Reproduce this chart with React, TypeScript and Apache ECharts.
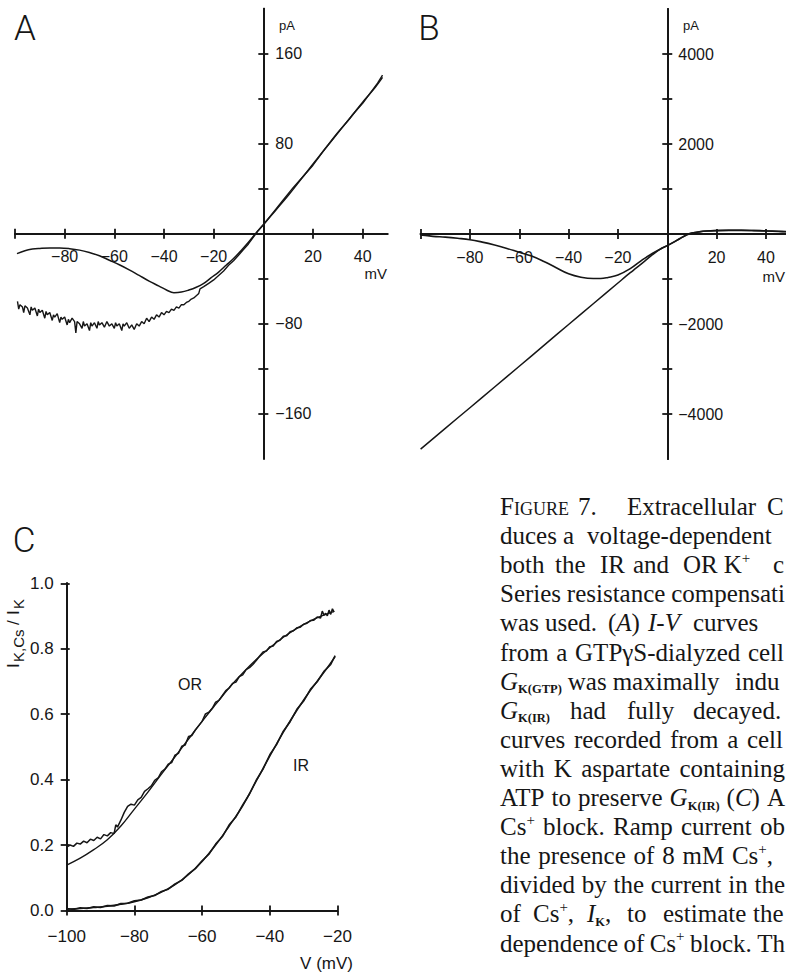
import React, { useEffect, useRef } from 'react';
import * as echarts from 'echarts';

// ---------------- DATA ----------------
// Panel A: I-V curves from a GTPgS-dialyzed cell (mV, pA)
const aSmoothCurve: number[][] = [
  [-99.2, -17.6], [-96, -15], [-93, -13.6], [-90, -13], [-86, -12.6], [-82, -12.6], [-78, -13.2],
  [-74, -14.5], [-70, -16.7], [-66, -19.5], [-62, -23.5], [-58, -27.5], [-54, -32], [-50, -37],
  [-46, -42], [-42, -46.5], [-39, -50], [-36, -52.3], [-33, -51.8], [-30, -50], [-27, -47.5],
  [-24, -44], [-21, -39], [-18, -34], [-15, -28], [-12, -22], [-9, -15], [-6, -7.5], [-3, 0.5],
  [0, 8], [5, 21], [10, 34], [15, 48], [20, 62], [25, 76], [30, 90], [35, 103], [40, 117],
  [45, 130], [48, 139],
];
const aNoisyCurve: number[][] = [
  [-99, -60], [-98.5, -67], [-98, -63], [-97, -65], [-96.5, -70], [-96, -64], [-95, -66],
  [-94, -72], [-93.5, -65], [-93, -68], [-92, -66], [-91, -73], [-90.5, -67], [-90, -70],
  [-89, -68], [-88, -75], [-87.5, -69], [-87, -72], [-86, -70], [-85, -77], [-84.5, -72],
  [-84, -74], [-83, -71], [-82, -79], [-81.5, -74], [-81, -76], [-80, -74], [-79, -81],
  [-78.5, -76], [-78, -79], [-77, -75], [-76, -78], [-75.5, -88], [-75, -78], [-74, -80],
  [-73, -84], [-72.5, -78], [-72, -82], [-71, -80], [-70, -86], [-69.5, -79], [-69, -82],
  [-68, -79], [-67, -84], [-66.5, -78], [-66, -81], [-65, -79], [-64, -83], [-63, -78],
  [-62, -82], [-61, -80], [-60, -84], [-59.5, -79], [-59, -82], [-58, -80], [-57, -86],
  [-56.5, -80], [-56, -82], [-55, -79], [-54, -84], [-53, -81], [-52, -85], [-51, -80],
  [-50, -82], [-49, -78], [-48, -80], [-47, -75], [-46, -78], [-45, -74], [-44, -76],
  [-43, -72], [-42, -74], [-41, -70], [-40, -72], [-39, -69], [-38, -70], [-37, -67],
  [-36, -68], [-35, -65], [-34, -66], [-33, -63], [-32, -63], [-31, -61], [-30, -60],
  [-29, -58], [-28, -57], [-27, -55], [-26, -53], [-25.5, -49], [-24, -47], [-22, -44],
  [-20, -41], [-18, -37], [-16, -33], [-14, -28], [-12, -24], [-10, -19], [-8, -14], [-6, -9],
  [-4, -3], [-2, 3], [0, 8], [4, 19], [8, 30], [12, 41], [16, 51], [20, 61], [24, 73], [28, 84],
  [32, 95], [36, 106], [40, 116], [44, 128], [46, 134], [48, 141],
];

// Panel B: I-V curves, K aspartate + ATP (mV, pA)
const bDipCurve: number[][] = [
  [-100, -20], [-95, -52], [-90, -70], [-85, -95], [-80, -126], [-75, -180], [-70, -245],
  [-65, -320], [-60, -407], [-55, -490], [-50, -610], [-45, -750], [-40, -885], [-35, -960],
  [-30, -990], [-27, -990], [-24, -965], [-20, -910], [-15, -770], [-10, -570], [-8, -500],
  [-5, -400], [-2, -310], [0, -259], [3, -170], [5, -105], [8, -15], [10, 20], [13, 48],
  [16, 65], [20, 75], [25, 80], [30, 80], [35, 75], [40, 65], [45, 55], [50, 45],
];
const bLinearCurve: number[][] = [
  [-100, -4780], [-90, -4320], [-80, -3860], [-70, -3400], [-60, -2940], [-50, -2475],
  [-40, -2010], [-30, -1550], [-20, -1090], [-15, -860], [-10, -640], [-6, -460], [-3, -340],
  [0, -259], [3, -170], [5, -105], [8, -15], [10, 20], [13, 50], [16, 68], [20, 78], [25, 84],
  [30, 85], [35, 80], [40, 70], [45, 60], [50, 50],
];

// Panel C: I_K,Cs / I_K vs V (mV)
const cORData: number[][] = [
  [-100, 0.194], [-99, 0.2], [-98, 0.196], [-97, 0.206], [-96, 0.203], [-95, 0.212], [-94, 0.207],
  [-93, 0.218], [-92, 0.214], [-91, 0.224], [-90, 0.219], [-89, 0.232], [-88, 0.228], [-87, 0.238],
  [-86, 0.235], [-85.5, 0.262], [-85, 0.255], [-84, 0.276], [-83, 0.3], [-82, 0.318], [-81, 0.325],
  [-80, 0.322], [-79, 0.338], [-78, 0.346], [-77, 0.364], [-76, 0.372], [-75, 0.381], [-74, 0.398],
  [-73, 0.405], [-72, 0.424], [-71, 0.432], [-70, 0.447], [-69, 0.452], [-68, 0.475], [-67, 0.48],
  [-66, 0.502], [-65, 0.506], [-64, 0.532], [-63, 0.535], [-62, 0.552], [-61, 0.565], [-60, 0.578],
  [-59, 0.601], [-58, 0.606], [-57, 0.618], [-56, 0.637], [-55, 0.642], [-54, 0.657], [-53, 0.672],
  [-52, 0.68], [-51, 0.694], [-50, 0.698], [-49, 0.715], [-48, 0.72], [-47, 0.736], [-46, 0.742],
  [-45, 0.752], [-44, 0.764], [-43, 0.778], [-42, 0.79], [-41, 0.793], [-40, 0.806], [-39, 0.808],
  [-38, 0.822], [-37, 0.826], [-36, 0.838], [-35, 0.84], [-34, 0.852], [-33, 0.855], [-32, 0.864],
  [-31, 0.866], [-30, 0.875], [-29, 0.878], [-28, 0.886], [-27, 0.887], [-26, 0.897], [-25, 0.894],
  [-24.5, 0.915], [-24, 0.903], [-23.5, 0.908], [-23, 0.901], [-22.5, 0.918], [-22, 0.905],
  [-21.5, 0.922], [-21, 0.912],
];
const cORFit: number[][] = [
  [-100, 0.139], [-96, 0.16], [-92, 0.186], [-88, 0.216], [-84, 0.258], [-80, 0.31], [-76, 0.362],
  [-72, 0.417], [-68, 0.47], [-64, 0.524], [-60, 0.578], [-56, 0.63], [-52, 0.681], [-48, 0.726],
  [-44, 0.767], [-40, 0.803], [-36, 0.835], [-32, 0.862], [-28, 0.885], [-24, 0.903], [-21, 0.914],
];
const cIRData: number[][] = [
  [-100, 0.006], [-98, 0.003], [-96, 0.008], [-94, 0.006], [-92, 0.011], [-90, 0.009], [-88, 0.015],
  [-86, 0.014], [-84, 0.021], [-82, 0.022], [-80, 0.03], [-78, 0.032], [-76, 0.041], [-74, 0.046],
  [-72, 0.058], [-70, 0.065], [-68, 0.081], [-66, 0.092], [-64, 0.112], [-62, 0.128], [-60, 0.152],
  [-58, 0.172], [-56, 0.203], [-54, 0.226], [-52, 0.262], [-50, 0.286], [-48, 0.323], [-46, 0.356],
  [-44, 0.398], [-42, 0.432], [-40, 0.476], [-38, 0.507], [-36, 0.548], [-34, 0.577], [-32, 0.615],
  [-30, 0.64], [-28, 0.676], [-26, 0.699], [-24, 0.731], [-22, 0.752], [-20.7, 0.779],
];
const cIRFit: number[][] = [
  [-100, 0.004], [-96, 0.006], [-92, 0.009], [-88, 0.013], [-84, 0.019], [-80, 0.027], [-76, 0.039],
  [-72, 0.056], [-68, 0.079], [-64, 0.11], [-60, 0.15], [-56, 0.2], [-52, 0.258], [-48, 0.32],
  [-44, 0.396], [-40, 0.472], [-36, 0.545], [-32, 0.612], [-28, 0.673], [-24, 0.728], [-20.7, 0.776],
];

// Ticks and labels
const abXTicks = [-100, -80, -60, -40, -20, 0, 20, 40];
const abXLabels = [-80, -60, -40, -20, 20, 40];
const aYTicks = [-160, -120, -80, -40, 40, 80, 120, 160];
const aYLabels = [-160, -80, 80, 160];
const bYTicks = [-4000, -3000, -2000, -1000, 1000, 2000, 3000, 4000];
const bYLabels = [-4000, -2000, 2000, 4000];
const cXTicks = [-100, -80, -60, -40, -20];
const cYTicks = [0, 0.2, 0.4, 0.6, 0.8, 1.0];

// Caption text (figure legend), one entry per printed line; each word is a list of [text, format]
type Seg = [string, string?];
const captionLines: Seg[][][] = [
  [[['F'], ['IGURE', 'sc']], [['7.']], [['Extracellular']], [['C']]],
  [[['duces']], [['a']], [['voltage-dependent']]],
  [[['both']], [['the']], [['IR']], [['and']], [['OR']], [['K'], ['+', 'sup']], [['c']]],
  [[['Series']], [['resistance']], [['compensati']]],
  [[['was']], [['used.']], [['('], ['A', 'i'], [')']], [['I-V', 'i']], [['curves']]],
  [[['from']], [['a']], [['GTPγS-dialyzed']], [['cell']]],
  [[['G', 'i'], ['K(GTP)', 'sub']], [['was']], [['maximally']], [['indu']]],
  [[['G', 'i'], ['K(IR)', 'sub']], [['had']], [['fully']], [['decayed.']]],
  [[['curves']], [['recorded']], [['from']], [['a']], [['cell']]],
  [[['with']], [['K']], [['aspartate']], [['containing']]],
  [[['ATP']], [['to']], [['preserve']], [['G', 'i'], ['K(IR)', 'sub']], [['('], ['C', 'i'], [')']], [['A']]],
  [[['Cs'], ['+', 'sup']], [['block.']], [['Ramp']], [['current']], [['ob']]],
  [[['the']], [['presence']], [['of']], [['8']], [['mM']], [['Cs'], ['+', 'sup'], [',']]],
  [[['divided']], [['by']], [['the']], [['current']], [['in']], [['the']]],
  [[['of']], [['Cs'], ['+', 'sup'], [',']], [['I', 'i'], ['K', 'sub'], [',']], [['to']], [['estimate']], [['the']]],
  [[['dependence']], [['of']], [['Cs'], ['+', 'sup']], [['block.']], [['Th']]],
];
// layout of caption: fixed word x-positions, or justified to a right edge
const captionWordX: (number[] | null)[] = [
  [500, 578, 627, 767], [500, 563, 587], [500, 555, 600, 633, 683, 722, 773], null,
  [500, 545, 608, 648, 693], null, [500, 565, 610, 735], [500, 570, 627, 693],
  null, null, null, null, null, null, [500, 533, 587, 627, 663, 753], null,
];
const captionRightEdge = [0, 0, 0, 785, 0, 784, 0, 0, 783, 785, 785, 785, 773, 785, 0, 785];

// ---------------- STYLE ----------------
const W = 786;
const H = 972;
const INK = '#161616';
const SANS = '"Liberation Sans", Arial, Helvetica, sans-serif';
const SERIF = '"Liberation Serif", "Times New Roman", serif';
const LETTER = 'Roboto, "Liberation Sans", sans-serif';
const FMT: Record<string, { size: number; weight: string; style: string; dy: number }> = {
  n: { size: 25, weight: 'normal', style: 'normal', dy: 0 },
  i: { size: 25, weight: 'normal', style: 'italic', dy: 0 },
  sc: { size: 18, weight: 'normal', style: 'normal', dy: 0 },
  sup: { size: 15, weight: 'normal', style: 'normal', dy: -10 },
  sub: { size: 12.5, weight: 'bold', style: 'normal', dy: 4 },
};
const CAP_LEFT = 500;
const CAP_BASE = 515;
const CAP_STEP = 29.1;

const minusFmt = (v: number) => (v < 0 ? '\u2212' + Math.abs(v) : String(v));

function txt(text: string, x: number, y: number, size: number, family: string, align = 'left', extra: any = {}) {
  return {
    type: 'text',
    x,
    y,
    silent: true,
    style: {
      text,
      fill: INK,
      font: `${extra.fontStyle || 'normal'} ${extra.fontWeight || 'normal'} ${size}px ${family}`,
      textAlign: align,
      textVerticalAlign: 'middle',
      align,
      verticalAlign: 'middle',
    },
  };
}

function buildCaption(): any[] {
  const ctx = document.createElement('canvas').getContext('2d') as CanvasRenderingContext2D;
  const fontOf = (k: string) => {
    const f = FMT[k];
    return `${f.style} ${f.weight} ${f.size}px ${SERIF}`;
  };
  const measure = (t: string, k: string) => {
    ctx.font = fontOf(k);
    return ctx.measureText(t).width;
  };
  const out: any[] = [];
  captionLines.forEach((words, li) => {
    const base = CAP_BASE + li * CAP_STEP;
    const widths = words.map((w) => w.reduce((s, [t, k]) => s + measure(t, k || 'n'), 0));
    const xs: number[] = [];
    const fixed = captionWordX[li];
    if (fixed) {
      let prevEnd = -1e9;
      words.forEach((_, i) => {
        const x = Math.max(fixed[i], prevEnd + 6);
        xs.push(x);
        prevEnd = x + widths[i];
      });
    } else {
      const total = widths.reduce((a, b) => a + b, 0);
      const gap = Math.max(4, (captionRightEdge[li] - CAP_LEFT - total) / Math.max(1, words.length - 1));
      let x = CAP_LEFT;
      words.forEach((_, i) => {
        xs.push(x);
        x += widths[i] + gap;
      });
    }
    words.forEach((w, wi) => {
      let x = xs[wi];
      w.forEach(([t, k0]) => {
        const k = k0 || 'n';
        const f = FMT[k];
        out.push({
          type: 'text',
          x,
          y: base + f.dy - 0.34 * f.size,
          silent: true,
          style: {
            text: t,
            fill: INK,
            font: fontOf(k),
            textAlign: 'left',
            textVerticalAlign: 'middle',
            align: 'left',
            verticalAlign: 'middle',
          },
        });
        x += measure(t, k);
      });
    });
  });
  return out;
}

// axis pair (outside ticks + inside ticks => crossing ticks); offset puts the axis through zero
function xPair(gridIndex: number, min: number, max: number, ticks: number[], labels: number[], o: any) {
  const base = {
    gridIndex,
    type: 'value',
    min,
    max,
    position: 'bottom',
    offset: o.offset,
    splitLine: { show: false },
    axisLine: { show: true, onZero: false, lineStyle: { color: INK, width: 2 } },
  };
  return [
    {
      ...base,
      axisTick: { show: true, inside: false, length: o.out, customValues: ticks, lineStyle: { color: INK, width: 1.8 } },
      axisLabel: {
        show: true,
        customValues: labels,
        margin: o.margin,
        formatter: o.fmt,
        color: INK,
        fontFamily: SANS,
        fontSize: o.fontSize,
      },
    },
    {
      ...base,
      axisTick: { show: true, inside: true, length: o.in, customValues: ticks, lineStyle: { color: INK, width: 1.8 } },
      axisLabel: { show: false },
    },
  ];
}

function yPair(gridIndex: number, min: number, max: number, ticks: number[], labels: number[], o: any) {
  const base = {
    gridIndex,
    type: 'value',
    min,
    max,
    position: 'left',
    offset: o.offset,
    splitLine: { show: false },
    axisLine: { show: true, onZero: false, lineStyle: { color: INK, width: 2 } },
  };
  return [
    {
      ...base,
      axisTick: { show: true, inside: false, length: o.out, customValues: ticks, lineStyle: { color: INK, width: 1.8 } },
      axisLabel: {
        show: true,
        inside: o.labelInside,
        customValues: labels,
        margin: o.margin,
        formatter: o.fmt,
        color: INK,
        fontFamily: SANS,
        fontSize: o.fontSize,
      },
    },
    {
      ...base,
      axisTick: { show: true, inside: true, length: o.in, customValues: ticks, lineStyle: { color: INK, width: 1.8 } },
      axisLabel: { show: false },
    },
  ];
}

function line(data: number[][], xi: number, width: number, smooth: boolean | number = false) {
  return {
    type: 'line',
    xAxisIndex: xi,
    yAxisIndex: xi,
    data,
    symbol: 'none',
    showSymbol: false,
    smooth,
    silent: true,
    lineStyle: { color: INK, width },
    z: 3,
  };
}

// grid geometry (pixels)
const GA = { left: 15, top: 8.8, width: 372.5, height: 450 };
const GB = { left: 420.6, top: 9, width: 370, height: 450 };
const GC = { left: 66.7, top: 583.3, width: 270.8, height: 327.2 };

export default function App() {
  const ref = useRef<HTMLDivElement>(null);
  useEffect(() => {
    document.body.style.margin = '0';
    document.body.style.background = '#ffffff';
    if (!ref.current) return;
    const chart = echarts.init(ref.current, null, { renderer: 'svg', width: W, height: H });

    // zero positions inside the A and B grids
    const aX0 = -(GA.height * 0.5); // y=0 at mid-height (range -200..200)
    const aY0 = -(GA.width * (100 / 150)); // x=0 (range -100..50)
    const bX0 = -(GB.height * 0.5);
    const bY0 = -(GB.width * (100 / 150));

    const yTitle = {
      type: 'group',
      x: 19,
      y: 668,
      rotation: Math.PI / 2,
      silent: true,
      children: [
        txt('I', 0, -6, 17, SANS),
        txt('K,Cs', 6, -1, 15, SANS),
        txt('/', 43, -6, 17, SANS),
        txt('I', 53, -6, 17, SANS),
        txt('K', 59, -1, 15, SANS),
      ],
    };

    const graphics: any[] = [
      txt('A', 25, 28, 35, LETTER, 'center', { fontWeight: 300 }),
      txt('B', 429, 28, 35, LETTER, 'center', { fontWeight: 300 }),
      txt('C', 24, 540, 35, LETTER, 'center', { fontWeight: 300 }),
      txt('pA', 287, 25, 13, SANS, 'center'),
      txt('pA', 691, 25, 13, SANS, 'center'),
      txt('mV', 387, 273, 15, SANS, 'right'),
      txt('mV', 785, 276, 15, SANS, 'right'),
      txt('OR', 190, 684, 16, SANS, 'center'),
      txt('IR', 301, 765, 16, SANS, 'center'),
      txt('V (mV)', 353, 963, 17, SANS, 'right'),
      yTitle,
      ...buildCaption(),
    ];

    const option: any = {
      animation: false,
      backgroundColor: '#ffffff',
      grid: [
        { ...GA, containLabel: false, outerBoundsMode: 'none' },
        { ...GB, containLabel: false, outerBoundsMode: 'none' },
        { ...GC, containLabel: false, outerBoundsMode: 'none' },
      ],
      xAxis: [
        ...xPair(0, -100, 50, abXTicks, abXLabels, { offset: aX0, out: 5, in: 5, margin: 15, fontSize: 16, fmt: minusFmt }),
        ...xPair(1, -100, 50, abXTicks, abXLabels, { offset: bX0, out: 5, in: 5, margin: 15, fontSize: 16, fmt: minusFmt }),
        ...xPair(2, -100, -20, cXTicks, cXTicks, { offset: 0, out: 5, in: 5, margin: 17, fontSize: 17, fmt: minusFmt }),
      ],
      yAxis: [
        ...yPair(0, -200, 200, aYTicks, aYLabels, { offset: aY0, out: 5, in: 5, margin: 12, labelInside: true, fontSize: 16, fmt: minusFmt }),
        ...yPair(1, -5000, 5000, bYTicks, bYLabels, { offset: bY0, out: 5, in: 5, margin: 11, labelInside: true, fontSize: 16, fmt: minusFmt }),
        ...yPair(2, 0, 1, cYTicks, cYTicks, { offset: 0, out: 6, in: 3, margin: 13, labelInside: false, fontSize: 17, fmt: (v: number) => v.toFixed(1) }),
      ],
      series: [
        line(aSmoothCurve, 0, 1.5, 0.4),
        line(aNoisyCurve, 0, 1.4),
        line(bDipCurve, 2, 1.6, 0.4),
        line(bLinearCurve, 2, 1.5, 0.3),
        line(cORFit, 4, 1.4, 0.4),
        line(cORData, 4, 1.5),
        line(cIRFit, 4, 1.5, 0.4),
        line(cIRData, 4, 1.6),
      ],
      graphic: graphics,
    };
    chart.setOption(option);
    return () => chart.dispose();
  }, []);
  return <div ref={ref} style={{ width: W, height: H, background: '#fff' }} />;
}
